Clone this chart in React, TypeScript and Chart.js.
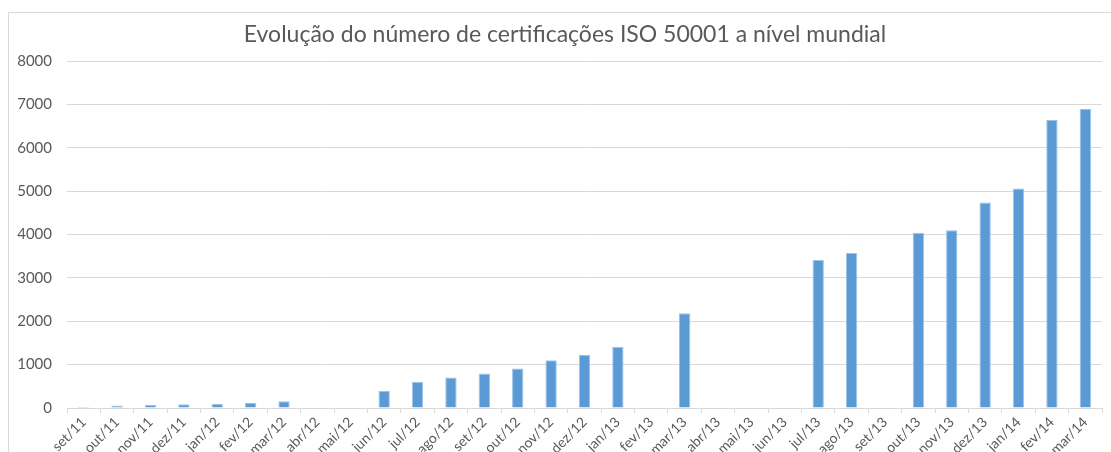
import React, { useEffect, useRef } from "react";
import { Chart, registerables } from "chart.js";

Chart.register(...registerables);

const TITLE = "Evolução do número de certificações ISO 50001 a nível mundial";

const months: string[] = [
  "set/11", "out/11", "nov/11", "dez/11", "jan/12", "fev/12", "mar/12", "abr/12",
  "mai/12", "jun/12", "jul/12", "ago/12", "set/12", "out/12", "nov/12", "dez/12",
  "jan/13", "fev/13", "mar/13", "abr/13", "mai/13", "jun/13", "jul/13", "ago/13",
  "set/13", "out/13", "nov/13", "dez/13", "jan/14", "fev/14", "mar/14",
];

const certifications: (number | null)[] = [
  25, 55, 70, 85, 100, 115, 155, null,
  null, 398, 604, 703, 794, 908, 1098, 1229,
  1412, null, 2184, null, null, null, 3412, 3574,
  null, 4040, 4100, 4740, 5063, 6640, 6900,
];

const yTicks: number[] = [0, 1000, 2000, 3000, 4000, 5000, 6000, 7000, 8000];

const FONT = "Lato, 'Open Sans', sans-serif";
const GRAY_TEXT = "#595959";
const GRID = "#d9d9d9";

const titleShift = {
  id: "titleShift",
  afterLayout(chart: any) {
    const t = chart.titleBlock;
    if (t) {
      t.left += 20;
    }
  },
};

export default function App() {
  const ref = useRef<HTMLCanvasElement | null>(null);

  useEffect(() => {
    if (!ref.current) return;
    const chart = new Chart(ref.current, {
      type: "bar",
      data: {
        labels: months,
        datasets: [
          {
            data: certifications,
            backgroundColor: "#5b9bd5",
            borderColor: "#9dc3e6",
            borderWidth: 1,
            categoryPercentage: 1,
            barPercentage: 0.34,
          },
        ],
      },
      plugins: [titleShift],
      options: {
        animation: false,
        responsive: false,
        devicePixelRatio: 1,
        layout: { padding: { left: 8, right: 9, top: 0, bottom: 0 } },
        plugins: {
          legend: { display: false },
          tooltip: { enabled: false },
          title: {
            display: true,
            text: TITLE,
            color: GRAY_TEXT,
            font: { family: FONT, size: 23, weight: "normal" },
            padding: { top: 21, bottom: 12.4 },
          },
        },
        scales: {
          x: {
            offset: true,
            grid: {
              offset: true,
              drawOnChartArea: false,
              drawTicks: true,
              tickLength: 5,
              color: GRID,
            },
            border: { display: true, color: GRID },
            ticks: {
              color: GRAY_TEXT,
              font: { family: FONT, size: 14 },
              minRotation: 45,
              maxRotation: 45,
              autoSkip: false,
              padding: 1,
            },
            afterFit: (s: any) => {
              s.height = 44;
            },
          },
          y: {
            min: 0,
            max: 8000,
            afterBuildTicks: (s: any) => {
              s.ticks = yTicks.map((v) => ({ value: v }));
            },
            grid: { color: GRID, drawTicks: false },
            border: { display: false },
            ticks: {
              color: GRAY_TEXT,
              font: { family: FONT, size: 15 },
              padding: 15,
              callback: (v: any) => String(v),
            },
            afterFit: (s: any) => {
              s.width = 59;
            },
          },
        },
      },
    });
    return () => chart.destroy();
  }, []);

  return (
    <>
      <div
        style={{
          position: "fixed",
          left: 8,
          top: 12,
          width: 1103,
          height: 440,
          boxSizing: "border-box",
          borderTop: "1px solid #d9d9d9",
          borderLeft: "1px solid #d9d9d9",
          background: "#fff",
        }}
      />
      <canvas
        ref={ref}
        width={1111}
        height={452}
        style={{ position: "fixed", left: 0, top: 0, width: 1111, height: 452 }}
      />
    </>
  );
}
